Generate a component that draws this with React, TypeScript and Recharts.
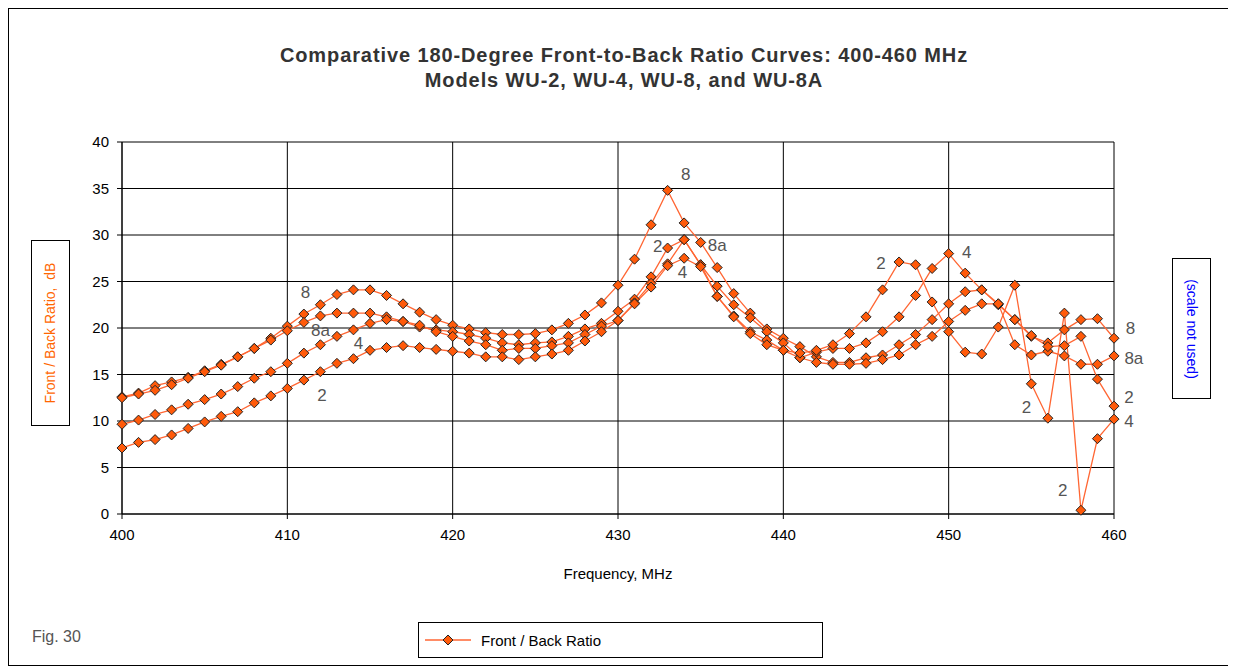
import { CartesianGrid, Line, LineChart, ReferenceDot, XAxis, YAxis } from "recharts"

// frequency steps, MHz
const freqs: number[] = []
for (let f = 400; f <= 460; f++) freqs.push(f)

// one value per MHz
const wu8 = [
  12.6, 13.0, 13.8, 14.2, 14.7, 15.4, 16.1, 16.9, 17.8, 18.9,
  20.2, 21.5, 22.5, 23.6, 24.1, 24.1, 23.5, 22.6, 21.7, 20.9,
  20.3, 19.9, 19.5, 19.3, 19.3, 19.4, 19.8, 20.5, 21.4, 22.7,
  24.6, 27.4, 31.1, 34.8, 31.3, 29.2, 26.5, 23.7, 21.6, 19.9,
  18.9, 18.0, 16.9, 16.3, 16.3, 16.8, 17.1, 18.2, 19.3, 20.9,
  22.6, 23.9, 24.1, 22.5, 20.9, 19.1, 18.4, 19.8, 20.9, 21.0,
  18.9,
]
const wu8a = [
  12.5, 12.9, 13.3, 13.9, 14.6, 15.3, 16.0, 16.9, 17.8, 18.7,
  19.7, 20.6, 21.3, 21.6, 21.6, 21.6, 21.2, 20.7, 20.1, 19.8,
  19.6, 19.3, 18.9, 18.4, 18.2, 18.4, 18.5, 19.1, 19.9, 20.5,
  21.8, 23.1, 25.5, 28.6, 29.5, 26.8, 24.5, 22.5, 21.1, 19.6,
  18.4, 16.8, 16.3, 16.1, 16.1, 16.2, 16.6, 17.1, 18.2, 19.1,
  20.7, 21.9, 22.6, 22.6, 18.2, 17.1, 17.5, 17.0, 16.1, 16.1,
  17.0,
]
const wu4 = [
  9.65, 10.1, 10.7, 11.2, 11.8, 12.3, 12.9, 13.7, 14.6, 15.3,
  16.2, 17.3, 18.2, 19.1, 19.8, 20.5, 20.9, 20.7, 20.3, 19.6,
  19.1, 18.6, 18.2, 17.6, 17.8, 17.8, 18.1, 18.4, 19.3, 20.2,
  20.8, 22.7, 24.8, 26.9, 29.5, 26.8, 23.4, 21.3, 19.6, 18.7,
  17.6, 16.8, 17.4, 17.8, 17.8, 18.4, 19.6, 21.2, 23.5, 26.4,
  28.0, 25.9, 24.1, 22.6, 20.9, 19.2, 18.0, 18.1, 19.1, 14.5,
  11.6,
]
const wu2 = [
  7.1, 7.7, 8.0, 8.5, 9.2, 9.9, 10.5, 11.0, 11.95, 12.7,
  13.5, 14.4, 15.3, 16.2, 16.7, 17.6, 17.9, 18.1, 17.9, 17.7,
  17.5, 17.3, 16.9, 16.9, 16.6, 16.9, 17.2, 17.6, 18.6, 19.6,
  20.8, 22.6, 24.4, 26.7, 27.5, 26.6, 23.4, 21.2, 19.4, 18.2,
  17.6, 17.3, 17.6, 18.2, 19.4, 21.2, 24.1, 27.1, 26.8, 22.8,
  19.6, 17.4, 17.2, 20.1, 24.6, 14.0, 10.3, 21.6, 0.4, 8.1,
  10.2,
]

const xTicks = [400, 410, 420, 430, 440, 450, 460]
const yTicks = [0, 5, 10, 15, 20, 25, 30, 35, 40]

// curve labels placed on the plot
const notes = [
  { text: "8", f: 411.1, v: 23.9 },
  { text: "8a", f: 412.0, v: 19.8 },
  { text: "4", f: 414.3, v: 18.4 },
  { text: "2", f: 412.1, v: 12.8 },
  { text: "8", f: 434.1, v: 36.6 },
  { text: "2", f: 432.4, v: 28.8 },
  { text: "8a", f: 436.0, v: 28.9 },
  { text: "4", f: 433.9, v: 26.0 },
  { text: "2", f: 445.9, v: 27.0 },
  { text: "4", f: 451.1, v: 28.2 },
  { text: "8", f: 461.0, v: 20.0 },
  { text: "8a", f: 461.2, v: 16.8 },
  { text: "2", f: 460.9, v: 12.6 },
  { text: "4", f: 460.9, v: 10.0 },
  { text: "2", f: 454.7, v: 11.5 },
  { text: "2", f: 456.9, v: 2.6 },
]

const rows = freqs.map((f, i) => ({ f, wu8: wu8[i], wu8a: wu8a[i], wu4: wu4[i], wu2: wu2[i] }))

const LINE = "#ff6633"
const FILL = "#ff5a0a"
const FONT = '"Liberation Sans", Arial, sans-serif'

const Diamond = (props: any) => {
  const { cx, cy } = props
  if (cx == null || cy == null) return null
  const s = 5
  return (
    <polygon
      points={`${cx},${cy - s} ${cx + s},${cy} ${cx},${cy + s} ${cx - s},${cy}`}
      fill={FILL}
      stroke="#222"
      strokeWidth={1}
    />
  )
}

const series = ["wu8", "wu8a", "wu4", "wu2"]

export default function App() {
  return (
    <div style={{ position: "relative", width: 1220, height: 656, border: "1px solid #000", fontFamily: FONT, background: "#fff" }}>
      <div style={{ position: "absolute", left: 0, top: 34, width: 1230, textAlign: "center", fontWeight: "bold", fontSize: 20, letterSpacing: 0.9, color: "#333", lineHeight: "25px" }}>
        Comparative 180-Degree Front-to-Back Ratio Curves: 400-460 MHz<br />
        Models WU-2, WU-4, WU-8, and WU-8A
      </div>

      <div style={{ position: "absolute", left: 0, top: 0 }}>
        <LineChart width={1220} height={656} data={rows} margin={{ top: 133, right: 115, bottom: 121, left: 53 }}>
          <CartesianGrid stroke="#000" strokeWidth={1} />
          <XAxis
            dataKey="f"
            type="number"
            domain={[400, 460]}
            ticks={xTicks}
            height={30}
            stroke="#000"
            tickSize={5}
            tickMargin={10}
            tick={{ fill: "#000", fontSize: 15, fontFamily: FONT }}
          />
          <YAxis
            domain={[0, 40]}
            ticks={yTicks}
            width={60}
            stroke="#000"
            tickSize={5}
            tickMargin={8}
            tick={{ fill: "#000", fontSize: 15, fontFamily: FONT }}
          />
          {series.map((k) => (
            <Line
              key={k}
              dataKey={k}
              type="linear"
              stroke={LINE}
              strokeWidth={1.3}
              dot={<Diamond />}
              activeDot={false}
              isAnimationActive={false}
            />
          ))}
          {notes.map((n, i) => (
            <ReferenceDot
              key={i}
              x={n.f}
              y={n.v}
              r={0}
              fill="none"
              stroke="none"
              ifOverflow="visible"
              label={{ value: n.text, position: "center", fill: "#555", fontSize: 17, fontFamily: FONT }}
            />
          ))}
        </LineChart>
      </div>

      <div style={{ position: "absolute", left: 22, top: 231, width: 37, height: 184, border: "1px solid #000", display: "flex", alignItems: "center", justifyContent: "center" }}>
        <div style={{ transform: "rotate(-90deg)", whiteSpace: "nowrap", color: "#ff6600", fontSize: 14 }}>Front / Back Ratio,&nbsp; dB</div>
      </div>

      <div style={{ position: "absolute", left: 1163, top: 249, width: 37, height: 139, border: "1px solid #000", display: "flex", alignItems: "center", justifyContent: "center" }}>
        <div style={{ transform: "rotate(90deg)", whiteSpace: "nowrap", color: "#0000ff", fontSize: 14 }}>(scale not used)</div>
      </div>

      <div style={{ position: "absolute", left: 0, top: 556, width: 1218, textAlign: "center", fontSize: 15, color: "#000" }}>
        Frequency, MHz
      </div>

      <div style={{ position: "absolute", left: 23, top: 619, fontSize: 16, color: "#555" }}>Fig. 30</div>

      <div style={{ position: "absolute", left: 409, top: 613, width: 403, height: 34, border: "1px solid #000", display: "flex", alignItems: "center" }}>
        <svg width={52} height={14} style={{ marginLeft: 6 }}>
          <line x1={0} y1={7} x2={46} y2={7} stroke={LINE} strokeWidth={1.3} />
          <Diamond cx={23} cy={7} />
        </svg>
        <span style={{ fontSize: 15, color: "#000", marginLeft: 4 }}>Front / Back Ratio</span>
      </div>
    </div>
  )
}
